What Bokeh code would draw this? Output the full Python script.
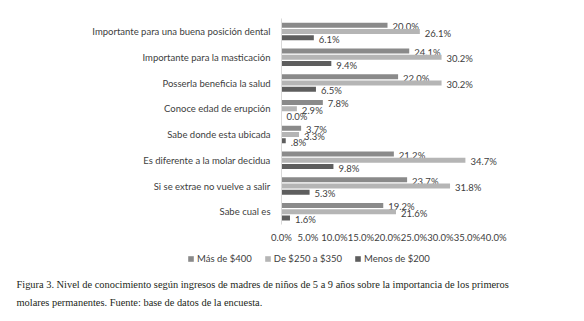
from bokeh.plotting import figure
from bokeh.models import (Range1d, FixedTicker, PrintfTickFormatter,
                          Legend, LegendItem, Label, ColumnDataSource)
from bokeh.transform import dodge
from bokeh.core.properties import value
from bokeh.embed import file_html
from bokeh.resources import INLINE

categories = [
    "Importante para una buena posición dental",
    "Importante para la masticación",
    "Posserla beneficia la salud",
    "Conoce edad de erupción",
    "Sabe donde esta ubicada",
    "Es diferente a la molar decidua",
    "Si se extrae no vuelve a salir",
    "Sabe cual es",
]
series_names = ["Más de $400", "De $250 a $350", "Menos de $200"]
mas_400 = [20.0, 24.1, 22.0, 7.8, 3.7, 21.2, 23.7, 19.2]
de_250_350 = [26.1, 30.2, 30.2, 2.9, 3.3, 34.7, 31.8, 21.6]
menos_200 = [6.1, 9.4, 6.5, 0.0, 0.8, 9.8, 5.3, 1.6]
mas_400_labels = ["20.0%", "24.1%", "22.0%", "7.8%", "3.7%", "21.2%", "23.7%", "19.2%"]
de_250_350_labels = ["26.1%", "30.2%", "30.2%", "2.9%", "3.3%", "34.7%", "31.8%", "21.6%"]
menos_200_labels = ["6.1%", "9.4%", "6.5%", "0.0%", ".8%", "9.8%", "5.3%", "1.6%"]
x_ticks = [0, 5, 10, 15, 20, 25, 30, 35, 40]
caption_lines = [
    "Figura 3. Nivel de conocimiento según ingresos de madres de niños de 5 a 9 años sobre la importancia de los primeros",
    "molares permanentes. Fuente: base de datos de la encuesta.",
]

W, H = 584, 321
X0 = 281.0           # pixel of 0 %
PX_PER_PCT = 5.3
Y_TOP_CENTER = 31.0  # pixel of first category centre
PX_PER_CAT = 25.75

n = len(categories)
positions = [n - 1 - i for i in range(n)]  # top category gets the highest value

colors = ["#8a8a8a", "#b5b5b5", "#5e5e5e"]
offsets = [0.245, 0.0, -0.245]
LABEL_FONT = value("Lato")
TEXT_COLOR = "#404040"

x_range = Range1d(-X0 / PX_PER_PCT, (W - X0) / PX_PER_PCT)
y_range = Range1d((n - 1) - (H - Y_TOP_CENTER) / PX_PER_CAT,
                  (n - 1) + Y_TOP_CENTER / PX_PER_CAT)

p = figure(width=W, height=H, output_backend="svg", toolbar_location=None,
           x_range=x_range, y_range=y_range,
           min_border_left=0, min_border_right=0, min_border_top=0,
           min_border_bottom=0)
p.outline_line_color = None
p.xgrid.visible = False
p.ygrid.visible = False
p.background_fill_color = "white"
p.border_fill_color = "white"

src = ColumnDataSource(dict(pos=positions, a=mas_400, b=de_250_350, c=menos_200,
                            la=mas_400_labels, lb=de_250_350_labels, lc=menos_200_labels))

renderers = []
for key, lkey, col, off in zip(["a", "b", "c"], ["la", "lb", "lc"], colors, offsets):
    r = p.hbar(y=dodge("pos", off), right=key, left=0, height=0.19,
               source=src, fill_color=col, line_color=None)
    renderers.append(r)
    p.text(x=key, y=dodge("pos", off), text=lkey, source=src,
           x_offset=5, y_offset=1.5, text_baseline="middle", text_align="left",
           text_font=LABEL_FONT, text_font_size="9.5px", text_color=TEXT_COLOR)

# x axis (percent ticks) fixed just under the bars
p.xaxis.fixed_location = -0.5
p.xaxis.bounds = (0, 40)
p.xaxis.ticker = FixedTicker(ticks=x_ticks)
p.xaxis.formatter = PrintfTickFormatter(format="%.1f%%")
p.xaxis.axis_line_color = None
p.xaxis.major_tick_line_color = None
p.xaxis.minor_tick_line_color = None
p.xaxis.major_tick_out = 0
p.xaxis.major_label_standoff = 7
p.xaxis.major_label_text_font = "Lato"
p.xaxis.major_label_text_font_size = "9.5px"
p.xaxis.major_label_text_color = TEXT_COLOR

# y axis (categories) fixed at 0 %
p.yaxis.fixed_location = 0
p.yaxis.bounds = (-0.5, n - 0.5)
p.yaxis.ticker = FixedTicker(ticks=positions)
p.yaxis.major_label_overrides = {pos: cat for pos, cat in zip(positions, categories)}
p.yaxis.axis_line_color = "#d9d9d9"
p.yaxis.major_tick_line_color = None
p.yaxis.minor_tick_line_color = None
p.yaxis.major_tick_out = 0
p.yaxis.major_label_standoff = 11
p.yaxis.major_label_text_font = "Lato"
p.yaxis.major_label_text_font_size = "9.5px"
p.yaxis.major_label_text_color = TEXT_COLOR

legend = Legend(items=[LegendItem(label=nm, renderers=[r]) for nm, r in zip(series_names, renderers)],
                orientation="horizontal", location=(187, 57), padding=0, margin=0,
                spacing=12, label_standoff=3, glyph_width=7, glyph_height=7,
                label_text_font="Lato", label_text_font_size="9.5px",
                label_text_color=TEXT_COLOR, border_line_color=None,
                background_fill_alpha=0, label_height=12)
p.add_layout(legend)

for i, line in enumerate(caption_lines):
    p.add_layout(Label(x=16, y=37 - 18 * i, x_units="screen", y_units="screen",
                       text=line, text_font="Liberation Serif", text_font_size="10.4px",
                       text_color="#231f20", text_baseline="middle", text_align="left"))

open("out.html", "w").write(file_html(p, INLINE))
